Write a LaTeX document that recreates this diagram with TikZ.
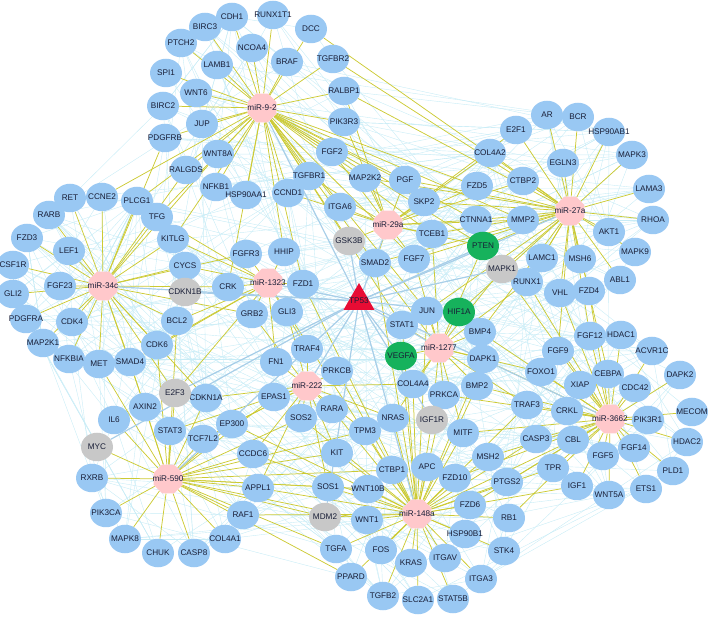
\documentclass[tikz,border=0pt]{standalone}
\usepackage{fontspec}
\setmainfont{Liberation Sans}
\usetikzlibrary{shapes.geometric}
\pgfdeclarelayer{bg}
\pgfdeclarelayer{bgtwo}
\pgfsetlayers{bg,bgtwo,main}
\definecolor{gblue}{RGB}{153,200,243}
\definecolor{gpink}{RGB}{255,200,203}
\definecolor{ggray}{RGB}{200,200,200}
\definecolor{ggreen}{RGB}{22,178,92}
\definecolor{gred}{RGB}{232,12,52}
\definecolor{gyel}{RGB}{204,202,52}
\definecolor{gcyan}{RGB}{200,236,246}
\definecolor{gtp}{RGB}{168,206,232}
\definecolor{gtxt}{RGB}{25,30,55}
\newcommand\mb[1]{\makebox[0pt]{#1}}
\tikzset{
 gn/.style={ellipse, fill=gblue, minimum width=32pt, minimum height=28.5pt, inner sep=0pt, font=\fontsize{8.2}{9}\selectfont, text=gtxt},
 gy/.style={gn, fill=ggray},
 gg/.style={gn, fill=ggreen},
 mir/.style={regular polygon, regular polygon sides=8, minimum size=31pt, fill=gpink, inner sep=0pt, font=\fontsize{8.2}{9}\selectfont, text=gtxt},
 tp/.style={regular polygon, regular polygon sides=3, minimum size=36pt, fill=gred, inner sep=0pt, font=\fontsize{8.2}{9}\selectfont, text=gtxt},
 ye/.style={draw=gyel, line width=0.75pt},
 fa/.style={draw=gcyan, line width=0.4pt},
 tl/.style={draw=gtp, line width=1.2pt},
}
\begin{document}
\begin{tikzpicture}[x=1pt,y=-1pt]
\useasboundingbox (0,0) rectangle (710,617);
% blue gene nodes
\foreach \n/\x/\y [count=\k] in {CDH1/232/17, RUNX1T1/273/15, DCC/311/29, BIRC3/205/27, PTCH2/181/43, NCOA4/252/48, BRAF/287/62, TGFBR2/333/59, LAMB1/217/65, SPI1/166/73, RALBP1/344/91, WNT6/196/93, BIRC2/163/106, JUP/202/124, PIK3R3/344/122, PDGFRB/165/138, WNT8A/218/154, FGF2/332/152, RALGDS/186/170, NFKB1/216/187, TGFBR1/309/176, MAP2K2/365/178, PGF/405/180, HSP90AA1/246/195, CCND1/288/193, ITGA6/340/207, SKP2/424/202, FZD5/477/186, AR/547/115, BCR/578/117, E2F1/516/130, HSP90AB1/609/132, COL4A2/490/153, EGLN3/563/163, MAPK3/632/155, CTBP2/523/181, LAMA3/649/189, MMP2/523/220, RHOA/653/220, CTNNA1/476/220, AKT1/609/232, MAPK9/635/252, LAMC1/542/258, MSH6/580/259, RUNX1/527/282, ABL1/620/280, VHL/560/293, FZD4/589/291, TCEB1/432/234, SMAD2/375/263, FGF7/414/259, FGFR3/246/254, HHIP/284/252, FZD1/303/284, GRB2/252/314, GLI3/287/312, JUN/427/311, STAT1/402/325, TRAF4/307/349, FN1/276/362, PRKCB/337/371, COL4A4/413/384, PRKCA/444/395, EPAS1/274/397, RARA/332/409, BMP4/480/332, DAPK1/483/359, BMP2/477/386, FGF12/590/336, HDAC1/621/335, FGF9/558/351, ACVR1C/652/351, FOXO1/541/372, CEBPA/608/374, DAPK2/680/375, XIAP/580/385, CDC42/635/388, TRAF3/527/405, CRKL/567/411, MECOM/692/412, PIK3R1/648/420, CASP3/536/439, CBL/573/440, HDAC2/687/442, FGF5/603/456, FGF14/634/448, MSH2/488/457, TPR/553/468, PLD1/673/471, PTGS2/507/482, IGF1/577/486, ETS1/646/489, WNT5A/609/495, FZD6/470/505, RB1/509/518, HSP90B1/465/534, STK4/504/551, ITGA3/481/579, SOS2/301/418, NRAS/393/418, TPM3/365/431, MITF/463/433, KIT/337/453, CCDC6/253/454, CTBP1/392/470, APC/427/467, FZD10/455/478, APPL1/258/488, SOS1/328/487, WNT10B/368/489, WNT1/367/520, RAF1/243/515, TGFA/336/549, FOS/381/550, KRAS/411/563, ITGAV/445/558, PPARD/351/577, TGFB2/383/596, SLC2A1/418/600, STAT5B/453/599, IL6/114/420, AXIN2/145/407, STAT3/170/431, TCF7L2/203/439, EP300/232/424, RXRB/92/478, PIK3CA/106/513, MAPK8/125/539, COL4A1/225/539, CHUK/158/553, CASP8/194/553, RARB/49/215, TFG/157/217, FZD3/27/238, KITLG/173/239, LEF1/69/251, CSF1R/13/265, CYCS/185/266, FGF23/60/286, GLI2/13/294, CRK/228/287, PDGFRA/26/319, CDK4/72/322, BCL2/177/321, MAP2K1/43/343, CDK6/157/345, NFKBIA/69/359, MET/99/364, SMAD4/130/362, CDKN1A/206/398, RET/70/198, CCNE2/102/197, PLCG1/137/201}
{\node[gn, alias=g\k] (\n) at (\x,\y) {\mb{\n}}; \xdef\ngenes{\k}}
% gray nodes
\foreach \n/\x/\y in {GSK3B/349/241, CDKN1B/185/292, MAPK1/502/269, E2F3/175/393, MYC/97/447, IGF1R/432/420, MDM2/325/517}
{\node[gy] (\n) at (\x,\y) {\mb{\n}};}
% green nodes
\foreach \n/\x/\y in {PTEN/483/246, HIF1A/459/312, VEGFA/401/356}
{\node[gg] (\n) at (\x,\y) {\mb{\n}};}
% miRNA nodes
\node[mir] (m92) at (262,108) {\mb{miR-9-2}};
\node[mir] (m27a) at (570,211) {\mb{miR-27a}};
\node[mir] (m34c) at (103,286) {\mb{miR-34c}};
\node[mir] (m590) at (168,479) {\mb{miR-590}};
\node[mir] (m148a) at (417,514) {\mb{miR-148a}};
\node[mir] (m3662) at (610,419) {\mb{miR-3662}};
\node[mir] (m1323) at (268,283) {\mb{miR-1323}};
\node[mir] (m29a) at (388,225) {\mb{miR-29a}};
\node[mir] (m222) at (307,386) {\mb{miR-222}};
\node[mir] (m1277) at (439,348) {\mb{miR-1277}};
\node[tp] (TP53) at (359,301) {\mb{TP53}};

% faint gene-gene web
\begin{pgfonlayer}{bg}
\pgfmathsetseed{4242}
\foreach \i in {1,...,230}{
  \pgfmathtruncatemacro\ra{random(1,\ngenes)}
  \pgfmathtruncatemacro\rb{random(1,\ngenes)}
  \draw[fa] (g\ra.center) -- (g\rb.center);
}
\foreach \i in {1,...,260}{
  \pgfmathtruncatemacro\ra{random(1,\ngenes)}
  \pgfmathtruncatemacro\rb{max(1,min(\ngenes,\ra+random(-25,25)))}
  \draw[fa] (g\ra.center) -- (g\rb.center);
}
\end{pgfonlayer}

\begin{pgfonlayer}{bgtwo}
\foreach \t in {CDH1,RUNX1T1,DCC,BIRC3,PTCH2,NCOA4,BRAF,TGFBR2,LAMB1,SPI1,RALBP1,WNT6,BIRC2,JUP,PIK3R3,PDGFRB,WNT8A,FGF2,RALGDS,NFKB1,TGFBR1,MAP2K2,HSP90AA1,CCND1,ITGA6,PGF,SKP2,FGF7,SMAD2,TCEB1,GSK3B,CTNNA1,FZD5,TFG,PLCG1,CCNE2,KITLG,HHIP,FZD1,CRK,STAT1,JUN,MMP2,PTEN}
  \draw[ye] (m92) -- (\t);
\foreach \t in {AR,BCR,E2F1,HSP90AB1,COL4A2,EGLN3,MAPK3,CTBP2,LAMA3,MMP2,RHOA,CTNNA1,AKT1,PTEN,MAPK9,LAMC1,MSH6,MAPK1,RUNX1,ABL1,VHL,FZD4,FZD5,TCEB1,SKP2,PGF,TGFBR2,DCC,RALBP1,FGF7,JUN,HIF1A,BMP4,FGF12,FGF9,CEBPA,SMAD2,MAP2K2}
  \draw[ye] (m27a) -- (\t);
\foreach \t in {RARB,TFG,FZD3,KITLG,LEF1,CSF1R,CYCS,FGF23,GLI2,PDGFRA,CDK4,BCL2,MAP2K1,CDK6,NFKBIA,MET,SMAD4,RET,CCNE2,PLCG1,E2F3,AXIN2,FGFR3,GRB2,CRK,PDGFRB,RALGDS,CDKN1A,WNT8A}
  \draw[ye] (m34c) -- (\t);
\foreach \t in {FGFR3,HHIP,FZD1,GRB2,GLI3,CRK,CYCS,KITLG,TFG,BCL2,TRAF4,FN1,CDK6,SMAD4,E2F3}
  \draw[ye] (m1323) -- (\t);
\foreach \t in {ITGA6,GSK3B,TCEB1,SMAD2,FGF7,SKP2,PGF,MAP2K2,FGF2,CTNNA1,PTEN,TGFBR1,CCND1,PIK3R3,RALBP1,MMP2,COL4A2,CTBP2,FZD5,E2F1}
  \draw[ye] (m29a) -- (\t);
\foreach \t in {TRAF4,FN1,PRKCB,EPAS1,RARA,SOS2,TPM3,KIT,GLI3,GRB2,CDKN1A,EP300,CCDC6,NRAS,SOS1,APPL1,TCF7L2,STAT3,COL4A4}
  \draw[ye] (m222) -- (\t);
\foreach \t in {JUN,HIF1A,STAT1,VEGFA,COL4A4,PRKCA,BMP4,DAPK1,BMP2,FGF7,TCEB1,IGF1R,NRAS,MITF,TRAF3,FOXO1,RUNX1,MAPK1,PTEN,SMAD2}
  \draw[ye] (m1277) -- (\t);
\foreach \t in {IL6,AXIN2,STAT3,TCF7L2,EP300,MYC,RXRB,PIK3CA,MAPK8,COL4A1,CHUK,CASP8,RAF1,CDKN1A,CCDC6,APPL1,E2F3,MDM2,SOS1,KIT,WNT10B,TPM3,SOS2,CTBP1,EPAS1,SMAD4,MET,CDK6,BCL2,WNT1,TGFA,PPARD}
  \draw[ye] (m590) -- (\t);
\foreach \t in {NRAS,IGF1R,TPM3,MITF,KIT,CTBP1,APC,FZD10,SOS1,WNT10B,FZD6,MDM2,WNT1,HSP90B1,TGFA,FOS,KRAS,ITGAV,PPARD,TGFB2,SLC2A1,STAT5B,ITGA3,RB1,STK4,PTGS2,MSH2,CASP3,IGF1,TPR,CBL,RARA,PRKCA,COL4A4,SOS2,VEGFA,STAT1,JUN,SMAD2,FZD1,GLI3,PRKCB,BMP2,DAPK1,TRAF3,RAF1,APPL1,CCDC6,EP300}
  \draw[ye] (m148a) -- (\t);
\foreach \t in {CRKL,PIK3R1,MECOM,CASP3,CBL,HDAC2,FGF5,FGF14,TPR,PLD1,IGF1,ETS1,WNT5A,XIAP,CDC42,CEBPA,FOXO1,FGF9,FGF12,HDAC1,ACVR1C,DAPK2,TRAF3,PTGS2,MSH2,BMP2,DAPK1,BMP4,FZD4,VHL,RUNX1,MAPK1,PRKCA,MITF,FZD10,FZD6,RB1}
  \draw[ye] (m3662) -- (\t);
\foreach \t in {m92,m27a,m34c,m1323,m29a,m222,m1277,m148a,m590,m3662,PTEN,HIF1A,VEGFA,GSK3B,CDKN1B,MAPK1,E2F3,MYC,IGF1R,MDM2}
  \draw[tl] (TP53) -- (\t);
\end{pgfonlayer}
\end{tikzpicture}
\end{document}
